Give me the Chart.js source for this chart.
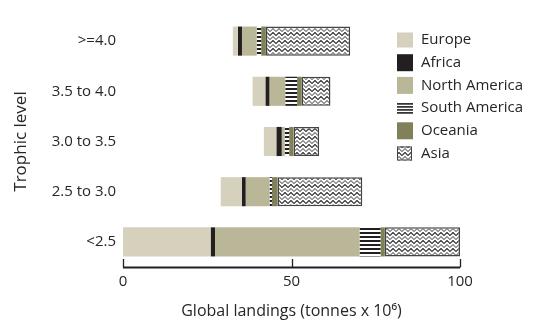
<!DOCTYPE html>
<html>
<head>
<meta charset="utf-8">
<script src="https://cdn.jsdelivr.net/npm/chart.js@4.4.1/dist/chart.umd.min.js"></script>
<style>
  html, body { margin: 0; padding: 0; background: #fff; }
  #wrap { width: 534px; height: 321px; position: relative; }
</style>
</head>
<body>
<div id="wrap"><canvas id="c"></canvas></div>
<script>
// Trophic level classes, top to bottom
const trophicLevels = ['>=4.0', '3.5 to 4.0', '3.0 to 3.5', '2.5 to 3.0', '<2.5'];

// Global landings by region (tonnes x 10^6)
const europe       = [1.5, 3.8, 3.7, 6.3, 26.0];
const africa       = [1.2, 1.2, 1.6, 1.1, 1.3];
const northAmerica = [4.4, 4.7, 0.9, 7.1, 42.9];
const southAmerica = [1.3, 3.5, 1.3, 0.7, 6.2];
const oceania      = [1.4, 1.4, 1.3, 1.7, 1.3];
const asia         = [25.0, 8.5, 7.6, 25.1, 22.3];

const xTicks = [0, 50, 100];
const regionNames = ['Europe', 'Africa', 'North America', 'South America', 'Oceania', 'Asia'];

const FONT = "'Open Sans', sans-serif";
const TEXT = '#262626';

function stripePattern() {
  const c = document.createElement('canvas');
  c.width = 4; c.height = 4;
  const g = c.getContext('2d');
  g.fillStyle = '#ffffff'; g.fillRect(0, 0, 4, 4);
  g.fillStyle = '#231f20'; g.fillRect(0, 0, 4, 2);
  return g.createPattern(c, 'repeat');
}

function zigzagPattern() {
  const c = document.createElement('canvas');
  c.width = 6; c.height = 8;
  const g = c.getContext('2d');
  g.fillStyle = '#ffffff'; g.fillRect(0, 0, 6, 8);
  g.lineWidth = 1.2;
  const wave = (y, col) => {
    g.strokeStyle = col;
    g.beginPath();
    g.moveTo(-1.5, y + 1.5);
    g.lineTo(0, y + 3);
    g.lineTo(3, y);
    g.lineTo(6, y + 3);
    g.lineTo(7.5, y + 1.5);
    g.stroke();
  };
  wave(0.5, '#2e2e2e');
  wave(4.5, '#7a7a7a');
  return g.createPattern(c, 'repeat');
}

const stripes = stripePattern();
const zigzag = zigzagPattern();

const series = [europe, africa, northAmerica, southAmerica, oceania, asia];
const fills = ['#d6d1bd', '#231f20', '#bab799', stripes, '#80815a', zigzag];

// Each class is centred on 50 on the landings axis
const totals = trophicLevels.map((_, k) => series.reduce((s, arr) => s + arr[k], 0));
const starts = totals.map(t => 50 - t / 2);

const running = starts.slice();
const datasets = series.map((vals, i) => {
  const data = vals.map((v, k) => {
    const a = running[k];
    running[k] = a + v;
    return [a, a + v];
  });
  return {
    label: regionNames[i],
    data,
    backgroundColor: fills[i],
    borderColor: i === 5 ? '#444444' : 'rgba(0,0,0,0)',
    borderWidth: i === 5 ? 1.5 : 0,
    borderSkipped: false,
    grouped: false,
    barPercentage: 0.58,
    categoryPercentage: 1.0
  };
});

// Axis line with inward tick marks
const axisLine = {
  id: 'axisLine',
  afterDatasetsDraw(chart) {
    const { ctx, chartArea, scales } = chart;
    const x = scales.x;
    const y0 = chartArea.bottom + 0.5;
    ctx.save();
    ctx.strokeStyle = '#231f20';
    ctx.lineWidth = 2;
    ctx.beginPath();
    ctx.moveTo(x.getPixelForValue(xTicks[0]), y0);
    ctx.lineTo(x.getPixelForValue(xTicks[xTicks.length - 1]), y0);
    ctx.stroke();
    ctx.lineWidth = 1.3;
    xTicks.forEach(t => {
      const px = Math.round(x.getPixelForValue(t)) + 0.5;
      ctx.beginPath();
      ctx.moveTo(px, y0);
      ctx.lineTo(px, y0 - 8.5);
      ctx.stroke();
    });
    ctx.restore();
  }
};

// Legend drawn inside the plot, right side
const sideLegend = {
  id: 'sideLegend',
  afterDraw(chart) {
    const { ctx } = chart;
    const bx = 397, tx = 421, y0 = 40, dy = 22.7;
    ctx.save();
    ctx.font = '15px ' + FONT;
    ctx.textBaseline = 'middle';
    ctx.textAlign = 'left';
    regionNames.forEach((name, i) => {
      const cy = y0 + i * dy;
      if (i === 3) {
        ctx.fillStyle = '#231f20';
        for (let k = 0; k < 4; k++) ctx.fillRect(bx, cy - 5 + k * 3, 16, 1.6);
      } else if (i === 5) {
        ctx.fillStyle = zigzag;
        ctx.fillRect(bx, cy - 7, 15, 14);
        ctx.strokeStyle = '#444444';
        ctx.lineWidth = 1;
        ctx.strokeRect(bx + 0.5, cy - 6.5, 14, 13);
      } else {
        ctx.fillStyle = fills[i];
        const h = i === 0 ? 15 : 17;
        ctx.fillRect(bx, cy - h / 2, 16, h);
      }
      ctx.fillStyle = TEXT;
      ctx.fillText(name, tx, cy);
    });
    ctx.restore();
  }
};

new Chart(document.getElementById('c'), {
  type: 'bar',
  data: { labels: trophicLevels, datasets },
  options: {
    indexAxis: 'y',
    responsive: true,
    maintainAspectRatio: false,
    animation: false,
    layout: { padding: { left: 0, right: 74, top: 0, bottom: 0 } },
    plugins: { legend: { display: false }, tooltip: { enabled: false } },
    scales: {
      x: {
        min: 0, max: 100,
        afterBuildTicks(scale) { scale.ticks = xTicks.map(v => ({ value: v })); },
        afterFit(scale) { scale.height = 54; },
        grid: { display: false, drawTicks: false },
        border: { display: false },
        ticks: { color: TEXT, font: { family: FONT, size: 15 }, padding: 6, maxRotation: 0 },
        title: {
          display: true,
          text: 'Global landings (tonnes x 10\u2076)',
          color: TEXT,
          font: { family: FONT, size: 16 },
          padding: { top: 0, bottom: 0 }
        }
      },
      y: {
        afterFit(scale) { scale.width = 123; },
        grid: { display: false, drawTicks: false },
        border: { display: false },
        ticks: { color: TEXT, font: { family: FONT, size: 15 }, padding: 7 },
        title: {
          display: true,
          text: 'Trophic level',
          color: TEXT,
          font: { family: FONT, size: 17 },
          padding: { top: 11, bottom: 0 }
        }
      }
    }
  },
  plugins: [axisLine, sideLegend]
});
</script>
</body>
</html>
